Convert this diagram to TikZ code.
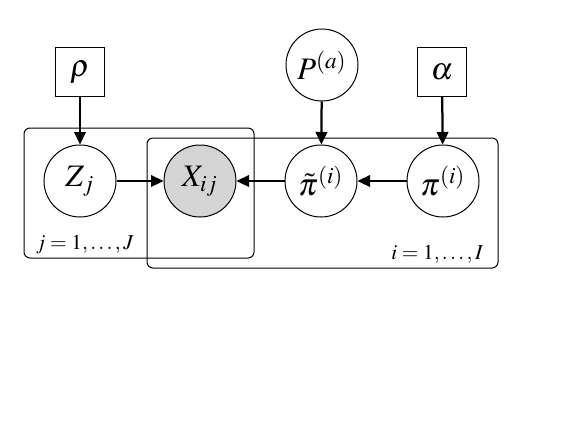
\documentclass[tikz,border=0pt]{standalone}
\usepackage{mathptmx}
\usepackage{fontspec}
\setmainfont{Liberation Serif}
\usetikzlibrary{arrows.meta}

\begin{document}
\begin{tikzpicture}[%
        x = 0.4pt, y = 0.4pt,
        > = {Triangle[length = 5pt, width = 4.6pt]},
        var/.style = {
            draw, circle, minimum size = 28.8pt, inner sep = 0pt,
            font = \fontsize{12.5}{14}\selectfont
        },
        param/.style = {
            draw, rectangle, minimum size = 19.4pt, inner sep = 0pt,
            font = \fontsize{12.5}{14}\selectfont
        },
        plate/.style = {draw, rounded corners = 2.4pt, thin},
        edge/.style = {->, line width = 0.9pt},
        thin
    ]

        \useasboundingbox (0, 0) rectangle (581, 436);

        % Plates
        \draw[plate] (24, 308) rectangle (254, 178);
        \draw[plate] (147, 298) rectangle (498, 168);
        \node[font = \fontsize{8.5}{10}\selectfont, anchor = base west]
            (jlabel) at (27, 187) {$j = 1,\ldots,J$};
        \node[font = \fontsize{8.5}{10}\selectfont, anchor = base east]
            (ilabel) at (492, 177) {$i = 1,\ldots,I$};

        % Hyperparameters
        \node[param] (rho) at (80, 364) {$\rho$};
        \node[param] (alpha) at (442, 364) {$\alpha$};
        \node[var] (P) at (322, 371) {$P^{(a)}$};

        % Variables
        \node[var] (Z) at (80, 255) {$Z_j$};
        \node[var, fill = black!17] (X) at (200, 255) {$X_{ij}$};
        \node[var] (pitilde) at (321, 255) {$\tilde{\pi}^{(i)}$};
        \node[var] (pi) at (443, 255) {$\pi^{(i)}$};

        % Edges
        \draw[edge] (rho) to (Z);
        \draw[edge] (alpha) to (pi);
        \draw[edge] (P) to (pitilde);
        \draw[edge] (Z) to (X);
        \draw[edge] (pitilde) to (X);
        \draw[edge] (pi) to (pitilde);
    \end{tikzpicture}
\end{document}
